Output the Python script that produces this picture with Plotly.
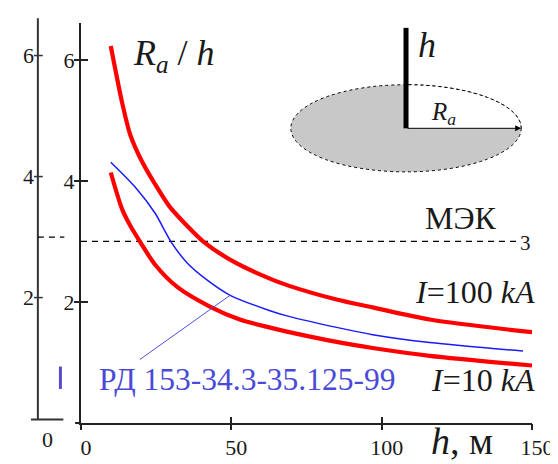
import plotly.graph_objects as go

# ---------------- data ----------------
h_100 = [9.9, 13.7, 16.4, 20.2, 24.6, 29.4, 34.3, 40.9, 50.6, 62.6, 69, 85, 97, 116, 150]
r_100 = [6.23, 5.29, 4.76, 4.33, 3.95, 3.58, 3.31, 2.99, 2.67, 2.39, 2.27, 2.04, 1.91, 1.71, 1.50]

h_rd = [9.9, 18, 24.6, 30, 35.4, 42, 49.6, 62.6, 68.5, 85, 97, 116, 147]
r_rd = [4.31, 3.90, 3.47, 2.99, 2.64, 2.36, 2.11, 1.86, 1.77, 1.58, 1.46, 1.33, 1.19]

h_10 = [9.9, 13.7, 16.5, 19.7, 24.6, 32.2, 43, 52.8, 62.6, 68.5, 85, 97, 116, 150]
r_10 = [4.14, 3.53, 3.25, 2.99, 2.62, 2.24, 1.92, 1.71, 1.58, 1.51, 1.34, 1.24, 1.11, 0.95]

mek_h = [0, 145]
mek_r = [3, 3]

leader_h = [19.6, 49.6]
leader_r = [1.05, 2.11]

x_ticks = [0, 50, 100, 150]
x_tick_labels = ["0", "50", "100", "150"]
y_ticks = [2, 4, 6]
y_tick_labels = ["2", "4", "6"]

label_rd = "РД 153-34.3-35.125-99"
label_100 = "<i>I</i>=100 <i>kA</i>"
label_10 = "<i>I</i>=10 <i>kA</i>"
label_mek = "МЭК"
label_mek_val = "3"
title_y = "<i>R</i><sub><i>a</i></sub> / <i>h</i>"
title_x = "<i>h</i>, м"

# ---------------- layout geometry ----------------
W, H = 558, 464
ML, MR, MT, MB = 73, 25, 15, 38
XR = [0, 150]
YR = [0, 6.61]
PW = W - ML - MR
PH = H - MT - MB

FONT = "Times New Roman, Liberation Serif, DejaVu Serif, Noto Serif, serif"
TXT = "#1a1a1a"
RED = "#ff0000"
BLUE = "#1a1aff"


def px_x(v):
    return ML + (v - XR[0]) / (XR[1] - XR[0]) * PW


def px_y(v):
    return MT + PH - (v - YR[0]) / (YR[1] - YR[0]) * PH


def paper_x(px):
    return (px - ML) / PW


def paper_y(py):
    return (MT + PH - py) / PH


fig = go.Figure()

fig.add_trace(go.Scatter(x=mek_h, y=mek_r, mode="lines",
                         line=dict(color="black", width=1.3, dash="6px,5px"),
                         hoverinfo="skip"))
fig.add_trace(go.Scatter(x=h_100, y=r_100, mode="lines",
                         line=dict(color=RED, width=4.2, shape="spline", smoothing=0.8)))
fig.add_trace(go.Scatter(x=h_10, y=r_10, mode="lines",
                         line=dict(color=RED, width=4.2, shape="spline", smoothing=0.8)))
fig.add_trace(go.Scatter(x=h_rd, y=r_rd, mode="lines",
                         line=dict(color=BLUE, width=1.5, shape="spline", smoothing=0.8)))
fig.add_trace(go.Scatter(x=leader_h, y=leader_r, mode="lines",
                         line=dict(color="#5050e0", width=1)))
# overlay axes for the outward half of crossing ticks
fig.add_trace(go.Scatter(x=[], y=[], xaxis="x2", yaxis="y2", showlegend=False))

ann = []
# text labels
ann.append(dict(x=31.0, y=6.07, text=title_y, showarrow=False,
                font=dict(family=FONT, size=36, color=TXT)))
ann.append(dict(x=126.5, y=3.39, text=label_mek, showarrow=False,
                font=dict(family=FONT, size=32, color=TXT)))
ann.append(dict(x=145.3, y=2.98, text=label_mek_val, showarrow=False, xanchor="left",
                font=dict(family=FONT, size=21, color=TXT)))
ann.append(dict(xref="paper", x=paper_x(538), y=2.17, text=label_100, showarrow=False,
                xanchor="right", font=dict(family=FONT, size=32, color=TXT)))
ann.append(dict(xref="paper", x=paper_x(538), y=0.71, text=label_10, showarrow=False,
                xanchor="right", font=dict(family=FONT, size=32, color=TXT)))
ann.append(dict(x=5.3, y=0.72, text=label_rd, showarrow=False, xanchor="left",
                font=dict(family=FONT, size=31.5, color="#4a4ad8")))
ann.append(dict(x=115.8, xref="x", yref="paper", y=paper_y(444), yanchor="middle",
                text=title_x, showarrow=False, xanchor="left",
                font=dict(family=FONT, size=38, color=TXT)))

# inset illustration (ellipse, pole, radius)
cx, cy = 108.1, 4.87
rx, ry = 38.3, 0.72
k = 0.5523
shapes = []
shapes.append(dict(type="circle", xref="x", yref="y", x0=cx - rx, x1=cx + rx,
                   y0=cy - ry, y1=cy + ry, fillcolor="#c8c8c8",
                   line=dict(color="black", width=1, dash="dot")))
quad = (f"M {cx},{cy} L {cx + rx},{cy} "
        f"C {cx + rx},{cy + k * ry} {cx + k * rx},{cy + ry} {cx},{cy + ry} Z")
shapes.append(dict(type="path", xref="x", yref="y", path=quad,
                   fillcolor="white", line=dict(width=0)))
shapes.append(dict(type="path", xref="x", yref="y",
                   path=(f"M {cx + rx},{cy} C {cx + rx},{cy + k * ry} "
                         f"{cx + k * rx},{cy + ry} {cx},{cy + ry}"),
                   line=dict(color="black", width=1, dash="dot")))
shapes.append(dict(type="line", xref="x", yref="y", x0=cx, x1=cx, y0=cy, y1=6.53,
                   line=dict(color="black", width=5)))
ann.append(dict(x=cx + rx, y=cy, ax=cx, ay=cy, axref="x", ayref="y", xref="x", yref="y",
                text="", showarrow=True, arrowhead=2, arrowsize=1.2, arrowwidth=1,
                arrowcolor="black", standoff=0))
ann.append(dict(x=115.2, y=6.24, text="<i>h</i>", showarrow=False,
                font=dict(family=FONT, size=36, color=TXT)))
ann.append(dict(x=120.6, y=5.11, text="<i>R</i><sub><i>a</i></sub>", showarrow=False,
                font=dict(family=FONT, size=25, color=TXT)))

# x-axis line extension to the left of 0
shapes.append(dict(type="line", xref="paper", yref="paper", x0=paper_x(67), x1=0,
                   y0=0, y1=0, line=dict(color="#222", width=2)))

# ghost (shifted duplicate) axis at left edge of the scan
GDX, GDY = -44, -4.5
gax = px_x(0) + GDX
shapes.append(dict(type="line", xref="paper", yref="paper", x0=paper_x(gax), x1=paper_x(gax),
                   y0=paper_y(px_y(0) + GDY + 1), y1=paper_y(10),
                   line=dict(color="#333", width=2)))
shapes.append(dict(type="line", xref="paper", yref="paper", x0=paper_x(22), x1=paper_x(55),
                   y0=paper_y(px_y(0) + GDY + 1), y1=paper_y(px_y(0) + GDY + 1),
                   line=dict(color="#333", width=2)))
shapes.append(dict(type="line", xref="paper", yref="paper", x0=paper_x(gax), x1=paper_x(56),
                   y0=paper_y(px_y(3) + GDY), y1=paper_y(px_y(3) + GDY),
                   line=dict(color="black", width=1.3, dash="6px,5px")))
for v, t in zip(y_ticks, y_tick_labels):
    py = px_y(v) + GDY
    shapes.append(dict(type="line", xref="paper", yref="paper", x0=paper_x(gax - 4),
                       x1=paper_x(gax + 5), y0=paper_y(py), y1=paper_y(py),
                       line=dict(color="#333", width=1.5)))
    ann.append(dict(xref="paper", yref="paper", x=paper_x(gax - 2), y=paper_y(py),
                    xanchor="right", yanchor="middle",
                    text=t, showarrow=False,
                    font=dict(family=FONT, size=22, color=TXT)))
ann.append(dict(xref="paper", yref="paper", x=paper_x(gax + 10), y=paper_y(443),
                xanchor="center", yanchor="middle",
                text=x_tick_labels[0], showarrow=False,
                font=dict(family=FONT, size=22, color=TXT)))
shapes.append(dict(type="line", xref="paper", yref="paper", x0=paper_x(52), x1=paper_x(52),
                   y0=paper_y(368), y1=paper_y(391), line=dict(color="#5a4ad0", width=3)))

fig.update_layout(
    width=W, height=H,
    margin=dict(l=ML, r=MR, t=MT, b=MB),
    paper_bgcolor="white", plot_bgcolor="white",
    showlegend=False,
    font=dict(family=FONT, size=22, color=TXT),
    annotations=ann, shapes=shapes,
    xaxis=dict(range=XR, tickvals=x_ticks, ticktext=x_tick_labels, ticks="inside",
               ticklen=6, tickwidth=1.5, tickcolor="#222", showline=True, linecolor="#222",
               linewidth=2, showgrid=False, zeroline=False, ticklabelshift=5,
               ticklabelstandoff=4, tickfont=dict(family=FONT, size=22, color=TXT)),
    yaxis=dict(range=YR, tickvals=y_ticks, ticktext=y_tick_labels, ticks="inside",
               ticklen=7, tickwidth=1.5, tickcolor="#222", showline=True, linecolor="#222",
               linewidth=2, showgrid=False, zeroline=False,
               tickfont=dict(family=FONT, size=22, color=TXT)),
    xaxis2=dict(range=XR, overlaying="x", anchor="y", tickvals=x_ticks, ticks="outside",
                ticklen=6, tickwidth=1.5, tickcolor="#222", showticklabels=False,
                showline=False, showgrid=False, zeroline=False),
    yaxis2=dict(range=YR, overlaying="y", anchor="x", tickvals=y_ticks, ticks="outside",
                ticklen=6, tickwidth=1.5, tickcolor="#222", showticklabels=False,
                showline=False, showgrid=False, zeroline=False),
)

fig.write_html("out.html")
